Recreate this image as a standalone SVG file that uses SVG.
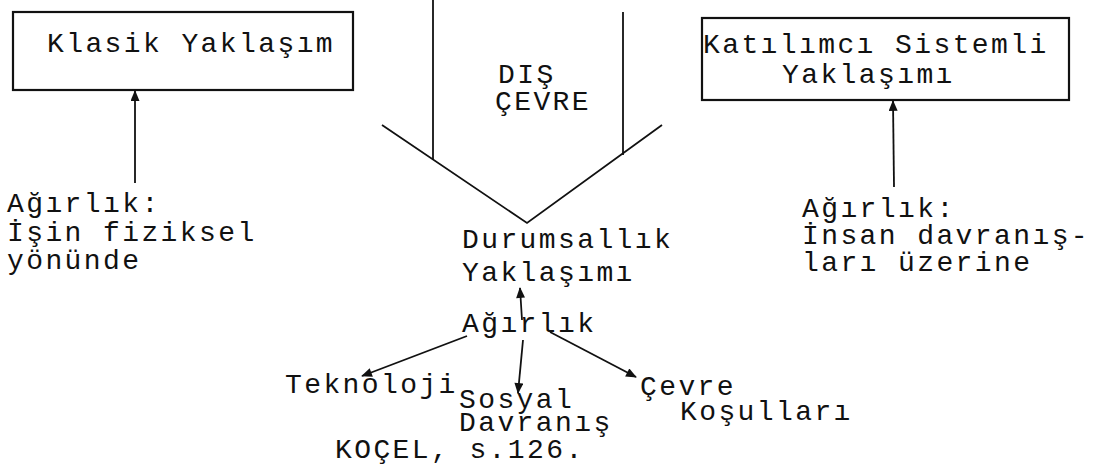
<svg xmlns="http://www.w3.org/2000/svg" width="1103" height="467" viewBox="0 0 1103 467">
<defs>
<style>
text{font-family:"Liberation Mono","DejaVu Sans Mono",monospace;font-size:28px;letter-spacing:2.4px;fill:#111;}
.box{fill:none;stroke:#111;stroke-width:2.2;}
.ln{fill:none;stroke:#111;stroke-width:1.8;}
.arr{fill:none;stroke:#111;stroke-width:1.8;marker-end:url(#ah);}
</style>
<marker id="ah" viewBox="0 0 12 10" refX="11" refY="5" markerWidth="12" markerHeight="9" markerUnits="userSpaceOnUse" orient="auto">
<path d="M0,0 L12,5 L0,10 Z" fill="#111"/>
</marker>
</defs>
<rect width="1103" height="467" fill="#fff"/>
<g id="klasik">
<rect class="box" x="13" y="12" width="340" height="78"/>
<text x="47" y="52">Klasik Yaklaşım</text>
</g>
<g id="katilimci">
<rect class="box" x="702" y="18" width="367" height="82"/>
<text x="703" y="53">Katılımcı Sistemli<tspan x="782" y="83">Yaklaşımı</tspan></text>
</g>
<g id="dis-cevre">
<path class="ln" d="M433,0 L433,160"/>
<path class="ln" d="M623,12 L623,155"/>
<path class="ln" d="M382,125 L527,223 L662,125"/>
<text x="498" y="83">DIŞ<tspan x="495" y="110">ÇEVRE</tspan></text>
</g>
<g id="agirlik-sol">
<text x="7" y="212">Ağırlık:<tspan x="7" y="241">İşin fiziksel</tspan><tspan x="7" y="269">yönünde</tspan></text>
</g>
<g id="agirlik-sag">
<text x="802" y="217">Ağırlık:<tspan x="802" y="244">İnsan davranış-</tspan><tspan x="802" y="271">ları üzerine</tspan></text>
</g>
<g id="durumsallik">
<text x="462" y="248">Durumsallık<tspan x="462" y="281">Yaklaşımı</tspan></text>
</g>
<g id="agirlik-orta">
<text x="462" y="332">Ağırlık</text>
</g>
<g id="teknoloji">
<text x="285" y="393">Teknoloji</text>
</g>
<g id="sosyal">
<text x="459" y="408">Sosyal<tspan x="459" y="431">Davranış</tspan></text>
</g>
<g id="cevre">
<text x="640" y="395">Çevre<tspan x="680" y="420">Koşulları</tspan></text>
</g>
<g id="kaynak">
<text x="335" y="458">KOÇEL, s.126.</text>
</g>
<g id="connectors">
<path class="arr" d="M135,183 L135,91"/>
<path class="arr" d="M894,187 L893,101"/>
<path class="arr" d="M522,320 L520,288"/>
<path class="arr" d="M467,336 L362,376"/>
<path class="arr" d="M523,340 L518,393"/>
<path class="arr" d="M550,332 L636,377"/>
</g>
</svg>
